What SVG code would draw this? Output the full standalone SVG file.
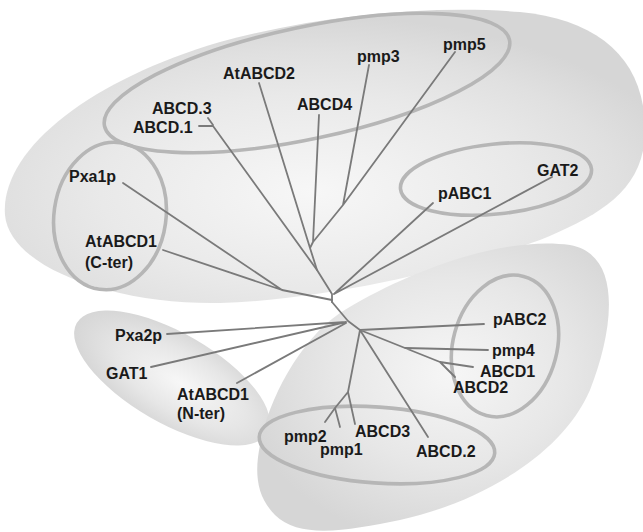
<svg xmlns="http://www.w3.org/2000/svg" width="643" height="532" viewBox="0 0 643 532">
<defs>
<radialGradient id="gA" cx="0.48" cy="0.62" r="0.6">
<stop offset="0" stop-color="#f7f7f7"/>
<stop offset="0.55" stop-color="#e9e9e9"/>
<stop offset="0.8" stop-color="#e0e0e0"/>
<stop offset="1" stop-color="#d6d6d6"/>
</radialGradient>
<radialGradient id="gB" cx="0.55" cy="0.5" r="0.55">
<stop offset="0" stop-color="#f7f7f7"/>
<stop offset="0.6" stop-color="#e6e6e6"/>
<stop offset="1" stop-color="#d6d6d6"/>
</radialGradient>
<radialGradient id="gC" cx="0.55" cy="0.45" r="0.6">
<stop offset="0" stop-color="#f6f6f6"/>
<stop offset="0.55" stop-color="#e7e7e7"/>
<stop offset="1" stop-color="#d6d6d6"/>
</radialGradient>
<style>
.t{font-family:"Liberation Sans",Arial,sans-serif;font-weight:bold;font-size:16px;fill:#1a1a1a}
.ring{fill:none;stroke:#b6b6b6;stroke-width:3.6}
.br{fill:none;stroke:#7a7a7a;stroke-width:1.8;stroke-linejoin:round;stroke-linecap:round}
</style>
</defs>
<rect width="643" height="532" fill="#ffffff"/>
<g id="blobs">
<path d="M5,215 C0,150 90,80 220,42 C320,15 430,5 520,12 C600,20 645,60 645,130 C645,190 600,215 540,240 C470,265 330,300 220,303 C120,305 10,270 5,215 Z" fill="url(#gA)"/>
<ellipse cx="172" cy="378" rx="110" ry="45" transform="rotate(30 172 378)" fill="url(#gB)"/>
<path d="M340,313 C400,275 500,235 570,245 C625,255 612,335 590,390 C560,460 470,505 400,520 C350,530 300,540 275,515 C255,495 255,470 260,445 C268,400 300,340 340,313 Z" fill="url(#gC)"/>
</g>
<g id="rings">
<ellipse class="ring" cx="307" cy="83" rx="207" ry="56" transform="rotate(-12 307 83)"/>
<ellipse class="ring" cx="110" cy="216" rx="56" ry="74" transform="rotate(8 110 216)"/>
<ellipse class="ring" cx="496" cy="179" rx="96" ry="35" transform="rotate(-6 496 179)"/>
<ellipse class="ring" cx="505" cy="346" rx="52" ry="72" transform="rotate(15 505 346)"/>
<ellipse class="ring" cx="377" cy="445" rx="118" ry="38" transform="rotate(4 377 445)"/>
</g>
<g id="connectors">
<path class="br" d="M199,126 L213,126 M208,118 L213,125 M213,126 L317,270"/>
<path class="br" d="M259,83 L310,248 M319,115 L313,242 M369,65 L343,205 M455,52 L343,205 L313,242 L310,248 L317,270 L332,294 L332,302"/>
<path class="br" d="M433,203 L334,294 M552,177 L334,294"/>
<path class="br" d="M123,183 L282,290 M163,250 L282,290 L332,300"/>
<path class="br" d="M332,302 L348,321 L360,330"/>
<path class="br" d="M167,334 L346,322 M151,367 L346,322 M237,383 L346,323"/>
<path class="br" d="M484,324 L360,330 M360,330 L440,362 L455,377 M440,362 L473,367 M405,348 L488,350"/>
<path class="br" d="M360,330 L348,392 L355,424 M348,392 L335,408 L325,422 M335,408 L340,427 M360,330 L428,437"/>
</g>
<g id="n-abcd3"><text class="t" x="152" y="114">ABCD.3</text></g>
<g id="n-abcd1b"><text class="t" x="133" y="133">ABCD.1</text></g>
<g id="n-atabcd2"><text class="t" x="223" y="79">AtABCD2</text></g>
<g id="n-abcd4"><text class="t" x="297" y="110">ABCD4</text></g>
<g id="n-pmp3"><text class="t" x="357" y="62">pmp3</text></g>
<g id="n-pmp5"><text class="t" x="443" y="50">pmp5</text></g>
<g id="n-pxa1p"><text class="t" x="69" y="182">Pxa1p</text></g>
<g id="n-atabcd1c"><text class="t" x="85" y="247">AtABCD1</text><text class="t" x="85" y="268">(C-ter)</text></g>
<g id="n-pabc1"><text class="t" x="438" y="199">pABC1</text></g>
<g id="n-gat2"><text class="t" x="537" y="176">GAT2</text></g>
<g id="n-pxa2p"><text class="t" x="115" y="341">Pxa2p</text></g>
<g id="n-gat1"><text class="t" x="106" y="379">GAT1</text></g>
<g id="n-atabcd1n"><text class="t" x="177" y="400">AtABCD1</text><text class="t" x="177" y="419">(N-ter)</text></g>
<g id="n-pabc2"><text class="t" x="493" y="325">pABC2</text></g>
<g id="n-pmp4"><text class="t" x="492" y="356">pmp4</text></g>
<g id="n-abcd1"><text class="t" x="480" y="377">ABCD1</text></g>
<g id="n-abcd2"><text class="t" x="453" y="393">ABCD2</text></g>
<g id="n-pmp2"><text class="t" x="284" y="442">pmp2</text></g>
<g id="n-pmp1"><text class="t" x="320" y="455">pmp1</text></g>
<g id="n-abcd3b"><text class="t" x="355" y="437">ABCD3</text></g>
<g id="n-abcd2b"><text class="t" x="416" y="457">ABCD.2</text></g>
</svg>
